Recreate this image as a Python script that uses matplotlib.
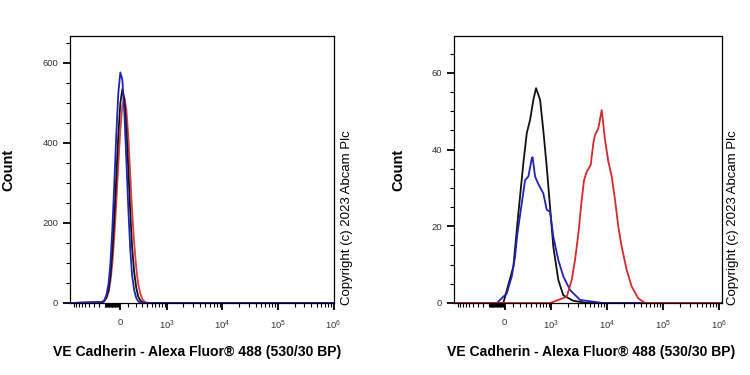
import numpy as np
import matplotlib
matplotlib.use("Agg")
import matplotlib.pyplot as plt
from matplotlib.ticker import FixedLocator, NullFormatter

plt.rcParams['font.family'] = ['Liberation Sans', 'DejaVu Sans']
plt.rcParams['mathtext.fontset'] = 'custom'
plt.rcParams['mathtext.rm'] = 'Liberation Sans'
plt.rcParams['mathtext.it'] = 'Liberation Sans'

# ---------------- data ----------------
x_label = "VE Cadherin - Alexa Fluor\u00ae 488 (530/30 BP)"
y_label = "Count"
copyright_text = "Copyright (c) 2023 Abcam Plc"

# Left panel (shared fluorescence grid)
left_x = [-1170, -240, -210, -180, -150, -125, -100, -75, -50, -25, 0, 25, 50, 75,
          100, 125, 150, 180, 210, 240, 275, 310, 345, 380, 425, 1.02e6]
left_blue = [0, 2.5, 7.5, 20, 48, 99, 183, 296, 418, 523, 576, 558, 475, 357, 236,
             137, 70, 32, 12.5, 4.4, 1.4, 0, 0, 0, 0, 0]
left_black = [0, 1.9, 5.4, 14, 32, 67, 126, 211, 313, 418, 499, 534, 510, 437, 335,
              229, 141, 77, 38, 16.6, 6.6, 2.3, 0.7, 0, 0, 0]
left_red = [0, 1.9, 5, 12, 27, 54, 98, 164, 249, 343, 431, 493, 512, 484, 416,
            325, 231, 150, 88, 47, 23, 10, 4, 1.5, 0, 0]

# Right panel
right_black_x = [-1170, -15, 110, 178, 253, 311, 372, 441, 502, 606, 701, 816, 942,
                 1084, 1340, 1654, 2474, 4400, 1.14e6]
right_black = [0, 0, 9.5, 23.4, 36.4, 44.3, 47.7, 53, 56, 53, 45, 35.5, 25,
               14.7, 6, 2, 0.6, 0, 0]
right_blue_x = [-1170, -97, 27, 89, 132, 164, 228, 282, 340, 407, 424, 479, 559,
                701, 816, 942, 1084, 1340, 1654, 2188, 3309, 8530, 1.14e6]
right_blue = [0, 0, 2.5, 6.9, 12, 18, 26, 32, 33, 37.7, 38, 33, 31,
              28.6, 24.3, 23.8, 17.3, 11.2, 6.9, 3.4, 0.8, 0, 0]
right_red_x = [-1170, 942, 1907, 2343, 2688, 3083, 3546, 3900, 4357, 5138, 5720,
               6133, 7027, 8078, 9266, 10603, 12207, 13974, 16008, 18384, 22602,
               27740, 36412, 47966, 1.14e6]
right_red = [0, 0, 1.6, 6, 11.2, 18, 26.9, 32, 34.2, 36, 41.6,
             43.8, 45.5, 50.3, 42.5, 36.9, 33, 26.9, 19.9, 14.7, 8.6,
             4.3, 1.2, 0, 0]

major_x = [1e3, 1e4, 1e5, 1e6]
major_x_labels = [r'$10^{3}$', r'$10^{4}$', r'$10^{5}$', r'$10^{6}$']
zero_label = '0'

left_yticks = [0, 200, 400, 600]
right_yticks = [0, 20, 40, 60]

# ---------------- scale ----------------
W = 297.0
def fwd(x):
    return np.arcsinh(np.asarray(x, dtype=float) / W) / np.log(10)
def inv(u):
    return W * np.sinh(np.asarray(u, dtype=float) * np.log(10))

BLUE = '#2222b4'
RED = '#d42a2a'
BLACK = '#111111'
TICKC = '#333333'

fig = plt.figure(figsize=(7.5, 3.75), dpi=100)
axL = fig.add_axes([70/750, 72/375, 264/750, 267/375])
axR = fig.add_axes([454/750, 72/375, 268/750, 267/375])

minor_x = ([-v for v in range(200, 1001, 100)] + [-v for v in range(10, 191, 10)]
           + list(range(100, 901, 100)))
for dec in [1e3, 1e4, 1e5]:
    minor_x += [k * dec for k in range(2, 10)]

def style(ax, xlim, ylim, yticks, yminor):
    ax.set_xscale('function', functions=(fwd, inv))
    ax.set_xlim(*xlim)
    ax.set_ylim(*ylim)
    ax.xaxis.set_major_locator(FixedLocator([0] + major_x))
    ax.set_xticklabels([zero_label] + major_x_labels)
    ax.xaxis.set_minor_locator(FixedLocator([m for m in minor_x if xlim[0] <= m <= xlim[1]]))
    ax.xaxis.set_minor_formatter(NullFormatter())
    ax.set_yticks(yticks)
    ax.yaxis.set_minor_locator(FixedLocator(yminor))
    ax.tick_params(axis='both', which='major', direction='out', length=5, width=1.3,
                   labelsize=6.8, labelcolor=TICKC, color='black')
    ax.tick_params(axis='both', which='minor', direction='out', length=3, width=0.8,
                   color='black')
    ax.tick_params(axis='x', which='major', pad=6)
    for sp in ax.spines.values():
        sp.set_linewidth(0.9)
        sp.set_color('black')

style(axL, (-1170, 1.02e6), (0, 667), left_yticks, list(range(50, 651, 100)) + list(range(100, 650, 200)))
style(axR, (-1170, 1.14e6), (0, 69.6), right_yticks, list(range(5, 66, 5)))

lw = 1.3
axL.plot(left_x, left_red, color=RED, lw=lw, alpha=0.9)
axL.plot(left_x, left_black, color=BLACK, lw=lw)
axL.plot(left_x, left_blue, color=BLUE, lw=lw)

axR.plot(right_black_x, right_black, color=BLACK, lw=lw)
axR.plot(right_blue_x, right_blue, color=BLUE, lw=lw)
axR.plot(right_red_x, right_red, color=RED, lw=lw)

for cx, lx, yl in [(347, 197, 8), (733, 591, 398)]:
    fig.text(cx/750, 1 - 305/375, copyright_text, rotation=90, ha='center', va='bottom',
             fontsize=9.5, color='black')
    fig.text(lx/750, 1 - 352/375, x_label, ha='center', va='center', fontsize=10.1,
             fontweight='bold')
    fig.text(yl/750, 1 - 170/375, y_label, rotation=90, ha='center', va='center',
             fontsize=10.5, fontweight='bold')

fig.savefig('out.png', dpi=100)
